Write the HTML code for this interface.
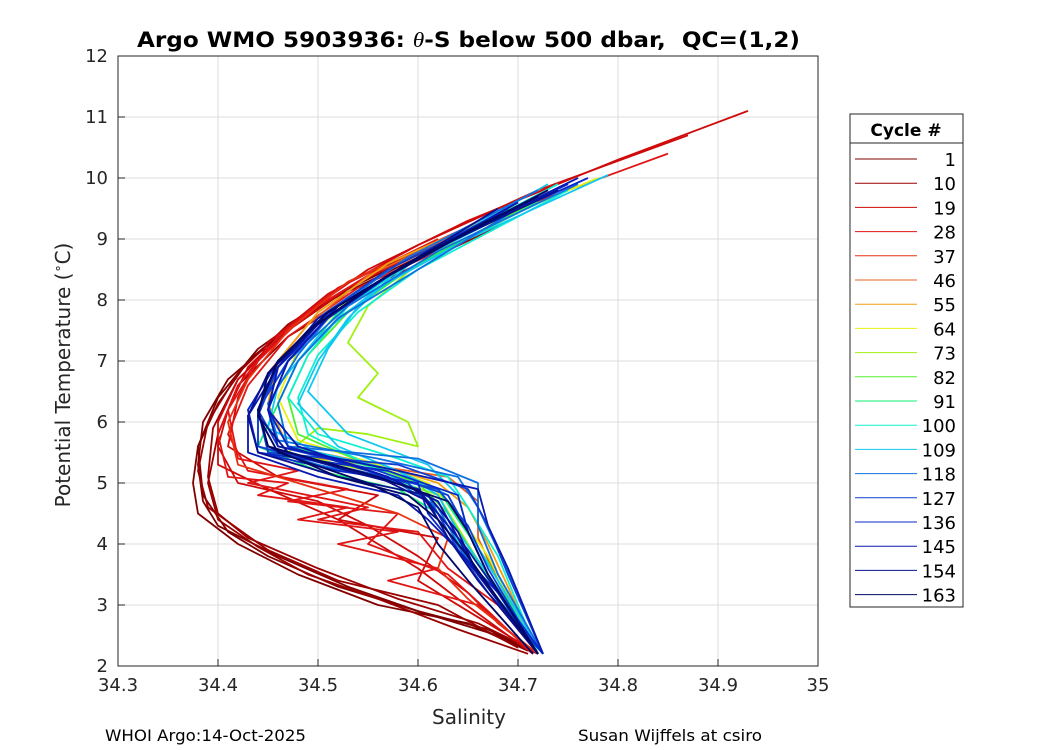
<!DOCTYPE html>
<html><head><meta charset="utf-8"><style>
body{margin:0;background:#fff;}
svg{display:block;font-family:"DejaVu Sans","Liberation Sans",sans-serif;}
</style></head><body>
<svg id="chart" width="1050" height="750" viewBox="0 0 1050 750">
<rect x="0" y="0" width="1050" height="750" fill="#fff"/>
<rect x="118" y="56" width="700" height="610" fill="#fff"/>
<g id="grid"></g>
<g id="lines"></g>
<rect x="118" y="56" width="700" height="610" fill="none" stroke="#262626" stroke-width="1"/>
<g id="ticks"></g>
<text x="137" y="47" textLength="663" lengthAdjust="spacingAndGlyphs" font-size="21" font-weight="bold" fill="#000">Argo WMO 5903936: <tspan font-style="italic" font-family="Liberation Serif,serif" font-weight="normal">θ</tspan>-S below 500 dbar,&#160; QC=(1,2)</text>
<text x="469" y="724" text-anchor="middle" font-size="20" fill="#262626">Salinity</text>
<text transform="translate(70,375) rotate(-90)" text-anchor="middle" font-size="20" fill="#262626">Potential Temperature (<tspan font-size="13" dy="-8">∘</tspan><tspan dy="8">C)</tspan></text>
<text x="105" y="741" font-size="16" textLength="201" lengthAdjust="spacingAndGlyphs" fill="#000">WHOI Argo:14-Oct-2025</text>
<text x="578" y="741" font-size="16" textLength="184" lengthAdjust="spacingAndGlyphs" fill="#000">Susan Wijffels at csiro</text>
<g id="legend">
<rect x="850" y="114" width="113" height="493" fill="#fff" stroke="#262626" stroke-width="1"/>
<line x1="850" y1="143" x2="963" y2="143" stroke="#262626"/>
<text x="906" y="136" text-anchor="middle" font-size="17" font-weight="bold">Cycle #</text>
</g>
</svg>
<script>
const xTicks=[34.3,34.4,34.5,34.6,34.7,34.8,34.9,35];
const xTickLabels=["34.3","34.4","34.5","34.6","34.7","34.8","34.9","35"];
const yTicks=[2,3,4,5,6,7,8,9,10,11,12];
const cycles=[1,10,19,28,37,46,55,64,73,82,91,100,109,118,127,136,145,154,163];
const cycleColors=["#800000","#9a0000","#cf0a0a","#e01515","#e83010","#e86020","#f0a010","#e8f010","#a0f010","#50f030","#10f070","#10f0d0","#10c8f0","#1070e0","#1040d0","#0a28c8","#0818b0","#081090","#000868"];
const profileCycle=[0,0,1,1,2,2,3,3,4,5,6,7,8,9,10,11,12,12,13,13,14,14,15,15,16,16,17,17,18,18,0,1,2,3,12,13,13,14,14,15,16,16,17,18,11,10];
const profileS=[
[34.65,34.55,34.48,34.43,34.40,34.38,34.375,34.38,34.42,34.48,34.56,34.65,34.71],
[34.62,34.52,34.46,34.41,34.385,34.38,34.385,34.40,34.46,34.53,34.60,34.67,34.72],
[34.70,34.56,34.47,34.42,34.39,34.38,34.39,34.45,34.52,34.62,34.70],
[34.66,34.54,34.47,34.42,34.395,34.39,34.40,34.43,34.50,34.58,34.66,34.71],
[34.93,34.80,34.65,34.55,34.48,34.43,34.41,34.40,34.42,34.50,34.55,34.60,34.65,34.68,34.72],
[34.64,34.53,34.47,34.42,34.40,34.40,34.45,34.52,34.56,34.60,34.64,34.715],
[34.62,34.52,34.46,34.42,34.40,34.41,34.47,34.44,34.53,34.48,34.58,34.52,34.62,34.57,34.66,34.71],
[34.85,34.70,34.57,34.49,34.44,34.41,34.42,34.48,34.43,34.55,34.50,34.60,34.63,34.68,34.72],
[34.65,34.53,34.47,34.43,34.41,34.42,34.50,34.58,34.63,34.62,34.65,34.72],
[34.68,34.55,34.49,34.45,34.44,34.46,34.55,34.63,34.66,34.66,34.68,34.72],
[34.72,34.57,34.50,34.46,34.45,34.47,34.56,34.62,34.65,34.67,34.69,34.72],
[34.78,34.62,34.53,34.48,34.46,34.48,34.56,34.61,34.64,34.67,34.72],
[34.70,34.60,34.55,34.53,34.56,34.54,34.59,34.60,34.55,34.50,34.47,34.55,34.62,34.65,34.68,34.72],
[34.74,34.60,34.53,34.49,34.47,34.48,34.55,34.60,34.63,34.66,34.72],
[34.72,34.59,34.52,34.48,34.46,34.44,34.50,34.58,34.62,34.65,34.68,34.72],
[34.75,34.60,34.54,34.50,34.48,34.49,34.55,34.60,34.63,34.66,34.72],
[34.79,34.65,34.56,34.50,34.46,34.45,34.50,34.58,34.63,34.65,34.67,34.725],
[34.70,34.58,34.53,34.50,34.48,34.52,34.58,34.62,34.64,34.67,34.72],
[34.76,34.62,34.53,34.47,34.44,34.44,34.50,34.58,34.62,34.64,34.67,34.725],
[34.70,34.59,34.52,34.48,34.46,34.47,34.55,34.61,34.63,34.66,34.72],
[34.75,34.61,34.52,34.47,34.44,34.44,34.51,34.59,34.62,34.64,34.67,34.725],
[34.68,34.57,34.50,34.46,34.44,34.46,34.56,34.63,34.65,34.67,34.72],
[34.77,34.62,34.52,34.46,34.43,34.44,34.52,34.60,34.61,34.64,34.68,34.725],
[34.68,34.57,34.50,34.46,34.45,34.47,34.57,34.62,34.64,34.66,34.72],
[34.74,34.60,34.51,34.46,34.44,34.45,34.53,34.60,34.62,34.65,34.68,34.72],
[34.69,34.57,34.50,34.46,34.45,34.48,34.57,34.62,34.64,34.66,34.72],
[34.74,34.60,34.51,34.46,34.44,34.45,34.53,34.60,34.62,34.65,34.68,34.72],
[34.66,34.56,34.49,34.45,34.44,34.47,34.56,34.61,34.63,34.66,34.72],
[34.72,34.59,34.51,34.46,34.44,34.45,34.52,34.59,34.62,34.65,34.68,34.72],
[34.67,34.56,34.49,34.45,34.44,34.46,34.55,34.60,34.62,34.65,34.715],
[34.60,34.50,34.44,34.40,34.38,34.385,34.41,34.45,34.52,34.60,34.68,34.72],
[34.68,34.55,34.47,34.42,34.40,34.39,34.40,34.44,34.49,34.56,34.64,34.71],
[34.87,34.72,34.60,34.51,34.45,34.42,34.41,34.46,34.56,34.52,34.62,34.60,34.66,34.72],
[34.66,34.54,34.47,34.43,34.41,34.43,34.53,34.47,34.58,34.55,34.63,34.67,34.715],
[34.73,34.60,34.54,34.51,34.49,34.53,34.61,34.64,34.65,34.68,34.725],
[34.72,34.59,34.52,34.48,34.45,34.46,34.56,34.64,34.66,34.68,34.70,34.725],
[34.70,34.58,34.51,34.47,34.45,34.47,34.60,34.66,34.66,34.68,34.725],
[34.76,34.61,34.52,34.47,34.44,34.45,34.58,34.65,34.67,34.69,34.725],
[34.70,34.58,34.51,34.46,34.44,34.46,34.54,34.62,34.65,34.67,34.72],
[34.75,34.61,34.52,34.46,34.43,34.44,34.57,34.64,34.65,34.67,34.72],
[34.70,34.58,34.50,34.46,34.43,34.43,34.50,34.58,34.61,34.64,34.67,34.72],
[34.76,34.61,34.52,34.47,34.45,34.46,34.58,34.66,34.67,34.69,34.725],
[34.68,34.57,34.50,34.45,34.43,34.44,34.52,34.61,34.64,34.66,34.72],
[34.73,34.60,34.51,34.46,34.44,34.45,34.56,34.63,34.65,34.67,34.72],
[34.74,34.60,34.53,34.49,34.47,34.50,34.58,34.63,34.65,34.68,34.72],
[34.72,34.59,34.52,34.48,34.46,34.47,34.57,34.62,34.64,34.67,34.72]
];
const profileT=[
[9.1,8.4,7.7,7.0,6.3,5.6,5.0,4.5,4.0,3.5,3.0,2.7,2.25],
[8.9,8.1,7.4,6.7,6.0,5.3,4.7,4.3,3.8,3.3,2.9,2.6,2.2],
[9.5,8.5,7.6,6.8,6.0,5.2,4.6,3.9,3.4,3.0,2.3],
[9.2,8.3,7.5,6.7,5.9,5.1,4.5,4.1,3.6,3.1,2.7,2.3],
[11.1,10.3,9.3,8.5,7.7,6.9,6.2,5.6,5.0,4.7,4.3,3.8,3.2,2.7,2.2],
[9.1,8.2,7.5,6.7,6.0,5.3,4.9,4.4,4.0,3.6,3.1,2.2],
[9.0,8.2,7.4,6.6,5.8,5.1,5.0,4.8,4.6,4.4,4.2,4.0,3.6,3.4,3.0,2.3],
[10.4,9.5,8.6,7.8,7.0,6.2,5.4,5.2,5.0,4.6,4.4,4.2,3.6,3.0,2.2],
[9.2,8.3,7.5,6.7,6.0,5.3,4.9,4.5,4.1,3.6,3.1,2.2],
[9.4,8.4,7.6,6.8,6.1,5.5,5.3,5.1,4.7,4.1,3.4,2.2],
[9.7,8.6,7.8,7.0,6.3,5.6,5.3,5.0,4.6,4.0,3.3,2.2],
[10.0,8.9,8.0,7.2,6.4,5.7,5.3,5.0,4.5,3.8,2.2],
[9.6,8.6,7.9,7.3,6.8,6.4,6.0,5.6,5.8,5.9,5.5,5.2,4.8,4.0,3.2,2.2],
[9.8,8.6,7.8,7.1,6.4,5.8,5.3,5.0,4.5,3.7,2.2],
[9.6,8.5,7.7,7.0,6.3,5.6,5.2,4.9,4.5,3.9,3.2,2.2],
[9.8,8.5,7.8,7.1,6.4,5.8,5.3,4.9,4.3,3.5,2.2],
[10.05,9.0,8.2,7.4,6.6,5.9,5.5,5.2,4.8,4.2,3.5,2.2],
[9.5,8.5,7.7,7.0,6.3,5.6,5.2,4.8,4.2,3.5,2.2],
[9.9,8.8,7.9,7.0,6.2,5.6,5.3,5.0,4.6,4.0,3.3,2.2],
[9.5,8.4,7.7,7.0,6.3,5.6,5.2,4.8,4.2,3.5,2.2],
[9.9,8.8,7.9,7.0,6.2,5.6,5.3,5.0,4.5,3.9,3.2,2.2],
[9.4,8.5,7.7,6.9,6.2,5.6,5.2,4.8,4.2,3.5,2.2],
[10.0,8.9,7.9,7.0,6.2,5.5,5.2,5.0,4.5,3.9,3.2,2.2],
[9.4,8.4,7.6,6.9,6.2,5.6,5.1,4.7,4.1,3.5,2.2],
[9.8,8.7,7.8,7.0,6.2,5.6,5.2,4.9,4.5,3.9,3.2,2.2],
[9.5,8.4,7.6,6.9,6.2,5.6,5.1,4.7,4.1,3.5,2.2],
[9.8,8.7,7.8,7.0,6.2,5.6,5.2,4.9,4.4,3.8,3.1,2.2],
[9.2,8.3,7.5,6.8,6.1,5.5,5.1,4.7,4.1,3.4,2.2],
[9.7,8.6,7.8,7.0,6.2,5.6,5.1,4.8,4.4,3.8,3.1,2.2],
[9.3,8.3,7.5,6.8,6.1,5.5,5.0,4.6,4.0,3.4,2.2],
[8.7,7.9,7.2,6.4,5.6,4.8,4.2,3.8,3.3,2.9,2.5,2.2],
[9.2,8.2,7.4,6.6,5.8,5.0,4.4,3.95,3.5,3.1,2.6,2.2],
[10.7,9.8,8.9,8.1,7.3,6.4,5.6,5.1,4.8,4.4,4.1,3.4,2.8,2.2],
[9.1,8.2,7.4,6.6,5.8,5.2,4.9,4.7,4.5,4.0,3.5,2.9,2.2],
[9.9,8.7,7.9,7.2,6.5,5.8,5.3,4.8,4.2,3.4,2.2],
[9.8,8.7,7.9,7.1,6.3,5.7,5.4,5.1,4.6,3.9,3.2,2.2],
[9.6,8.5,7.7,7.0,6.2,5.6,5.4,5.0,4.3,3.5,2.2],
[10.0,8.8,7.9,7.0,6.2,5.5,5.3,4.9,4.3,3.5,2.2],
[9.6,8.5,7.7,6.9,6.1,5.5,5.2,4.9,4.3,3.6,2.2],
[9.9,8.8,7.9,7.0,6.2,5.5,5.2,4.8,4.2,3.5,2.2],
[9.6,8.5,7.7,6.9,6.1,5.5,5.1,4.8,4.4,3.9,3.3,2.2],
[10.0,8.8,7.9,7.0,6.2,5.6,5.2,4.9,4.3,3.6,2.2],
[9.5,8.4,7.6,6.8,6.1,5.5,5.1,4.8,4.2,3.5,2.2],
[9.8,8.7,7.8,7.0,6.2,5.6,5.1,4.7,4.2,3.5,2.2],
[9.9,8.7,7.9,7.1,6.4,5.8,5.4,5.1,4.6,3.8,2.2],
[9.7,8.6,7.8,7.0,6.3,5.6,5.2,4.9,4.4,3.7,2.2]
];
const NS="http://www.w3.org/2000/svg";
const X0=118,X1=818,Y0=666,Y1=56;
function xs(s){return X0+(s-34.3)/(35-34.3)*(X1-X0);}
function ys(t){return Y0-(t-2)/(12-2)*(Y0-Y1);}
function mk(tag,attrs,parent){const e=document.createElementNS(NS,tag);for(const k in attrs)e.setAttribute(k,attrs[k]);parent.appendChild(e);return e;}
const grid=document.getElementById('grid'),ticks=document.getElementById('ticks'),lines=document.getElementById('lines'),legend=document.getElementById('legend');
xTicks.forEach((v,i)=>{
  const x=xs(v);
  const g=mk('line',{x1:x,x2:x,y1:Y1,y2:Y0,stroke:'#dcdcdc','stroke-width':1},grid);
  
  
  const t=mk('line',{x1:x,x2:x,y1:Y0,y2:Y0-7,stroke:'#262626'},ticks);
  
  
  const l=mk('text',{x:x,y:Y0+25,'text-anchor':'middle','font-size':18,fill:'#262626'},ticks);
  l.textContent=xTickLabels[i];
  
  
});
yTicks.forEach(v=>{
  const y=ys(v);
  const g=mk('line',{x1:X0,x2:X1,y1:y,y2:y,stroke:'#dcdcdc','stroke-width':1},grid);
  
  
  const t=mk('line',{x1:X0,x2:X0+7,y1:y,y2:y,stroke:'#262626'},ticks);
  
  
  const l=mk('text',{x:X0-10,y:y+6,'text-anchor':'end','font-size':18,fill:'#262626'},ticks);
  l.textContent=String(v);
  
  
});
const order=profileS.map((s,i)=>i).sort((a,b)=>profileCycle[a]-profileCycle[b]);
order.forEach(i=>{
  const sArr=profileS[i],tArr=profileT[i];
  const pts=sArr.map((s,j)=>xs(s).toFixed(1)+','+ys(tArr[j]).toFixed(1)).join(' ');
  const p=mk('polyline',{points:pts,fill:'none',stroke:cycleColors[profileCycle[i]],'stroke-width':1.8,'stroke-linejoin':'round'},lines);
  
  
});
cycles.forEach((c,i)=>{
  const y=159+i*24.2;
  const l=mk('line',{x1:855,x2:917,y1:y,y2:y,stroke:cycleColors[i],'stroke-width':1},legend);
  
  
  const t=mk('text',{x:956,y:y+7,'text-anchor':'end','font-size':18,fill:'#000'},legend);
  t.textContent=String(c);
  
  
});
</script>
</body></html>
